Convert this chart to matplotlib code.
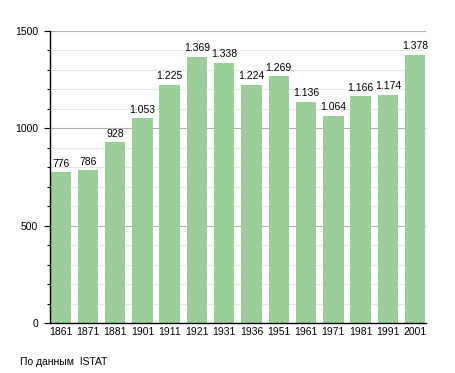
import numpy as np
import matplotlib
matplotlib.use('Agg')
import matplotlib.pyplot as plt
from matplotlib.ticker import MultipleLocator

plt.rcParams['font.family'] = ['Liberation Sans', 'DejaVu Sans']

anni = ['1861', '1871', '1881', '1901', '1911', '1921', '1931', '1936',
        '1951', '1961', '1971', '1981', '1991', '2001']
abitanti = [776, 786, 928, 1053, 1225, 1369, 1338, 1224,
            1269, 1136, 1064, 1166, 1174, 1378]
etichette = ['776', '786', '928', '1.053', '1.225', '1.369', '1.338', '1.224',
             '1.269', '1.136', '1.064', '1.166', '1.174', '1.378']

fig = plt.figure(figsize=(4.55, 3.73), dpi=100)
ax = fig.add_axes([50/455, (373-323.3)/373, (426-50)/455, (323.3-31)/373])

x = np.arange(len(anni))
ax.bar(x, abitanti, width=0.75, color='#9bce99', zorder=2)

for xi, v, t in zip(x, abitanti, etichette):
    ax.annotate(t, (xi, v), xytext=(0, 2.5), textcoords='offset points',
                ha='center', va='bottom', fontsize=7.5)

ax.set_xlim(-0.39, 13.4)
ax.set_ylim(0, 1500)
ax.set_xticks(x)
ax.set_xticklabels(anni, fontsize=7.5)
ax.tick_params(axis='x', length=0, pad=3)
ax.yaxis.set_major_locator(MultipleLocator(500))
ax.yaxis.set_minor_locator(MultipleLocator(100))
ax.tick_params(axis='y', which='major', length=4.5, width=0.8, labelsize=7.5, pad=4)
ax.tick_params(axis='y', which='minor', length=2.5, width=0.8)
ax.grid(axis='y', which='major', color='#b0b0b0', linewidth=0.8, zorder=0)
ax.grid(axis='y', which='minor', color='#e6e6e6', linewidth=0.8, zorder=0)
ax.set_axisbelow(True)

for s in ['top', 'right']:
    ax.spines[s].set_visible(False)
ax.spines['left'].set_linewidth(1)
ax.spines['bottom'].set_linewidth(1)

fig.text(20/455, 1 - 362/373, 'По данным  ISTAT', fontsize=7.5, va='center', ha='left')

plt.savefig('out.png', dpi=100)
